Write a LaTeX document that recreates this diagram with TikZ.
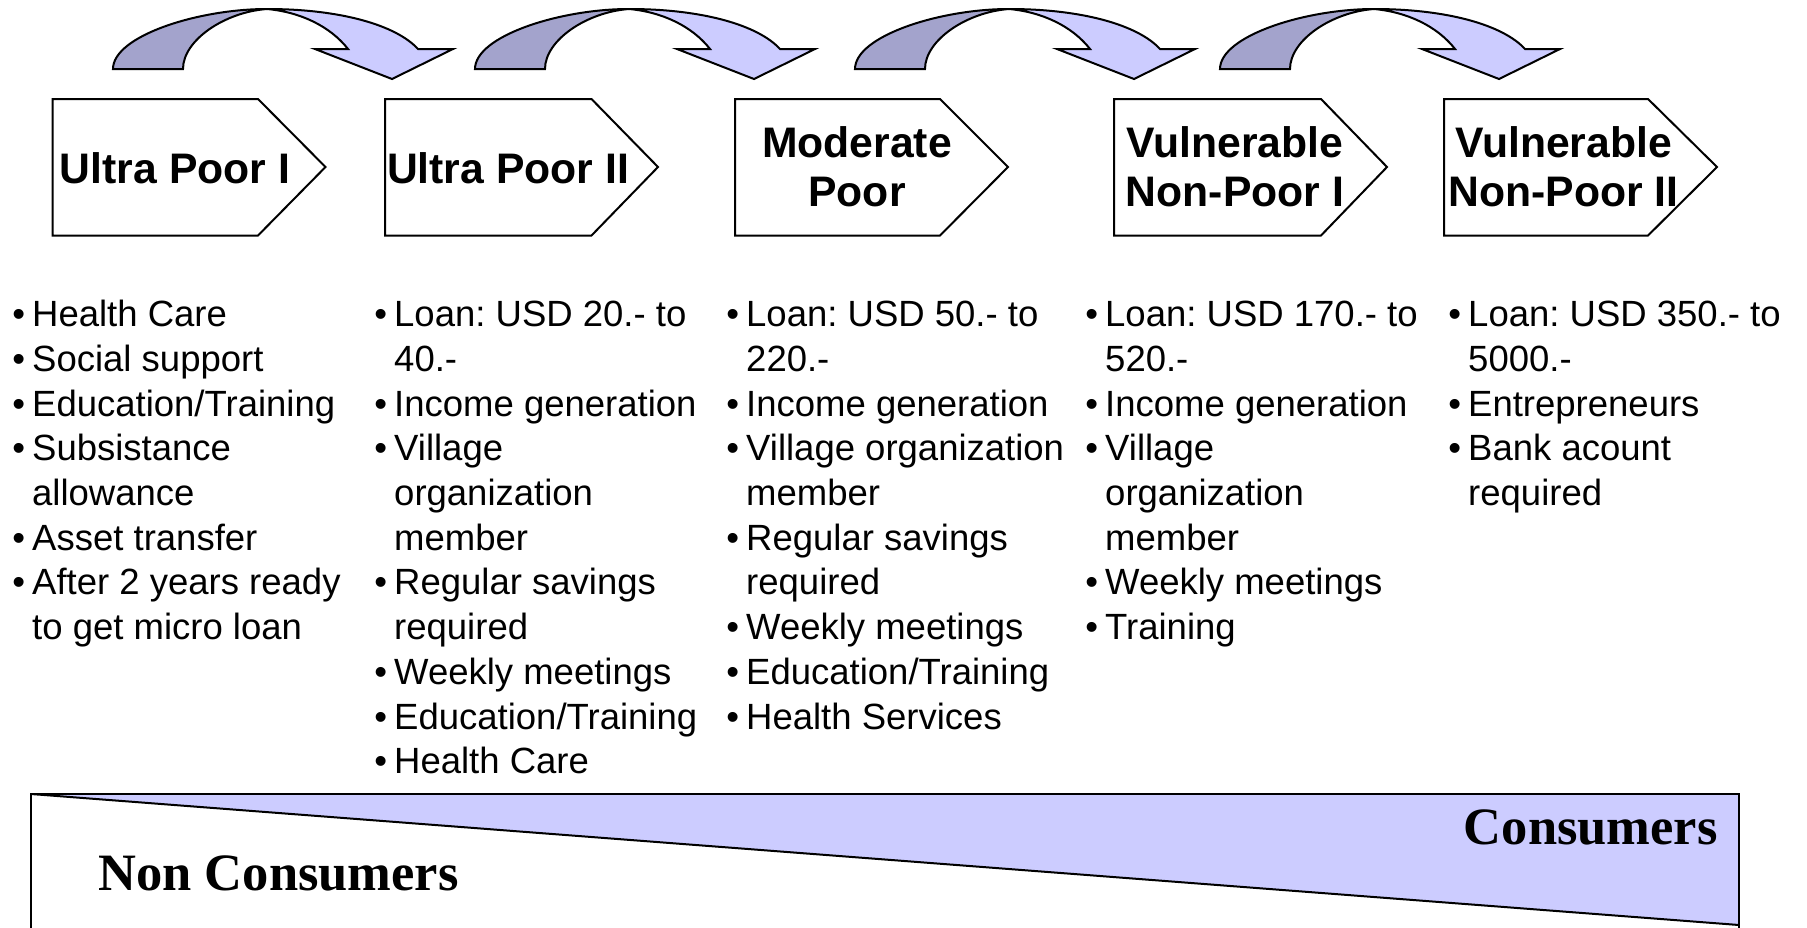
\documentclass[tikz,border=0pt]{standalone}
\usepackage{fontspec}
\setmainfont{Liberation Sans}
\newfontfamily\serifb{Liberation Serif}
\usepackage{array}
\frenchspacing
\definecolor{lightband}{HTML}{CCCCFF}
\definecolor{darkband}{HTML}{A3A3CC}
\newcommand{\bi}[1]{\textbullet & #1\\}
\newcommand{\ci}[1]{& #1\\}
\newenvironment{blist}{\fontsize{18.25pt}{22.35pt}\selectfont\frenchspacing\renewcommand{\arraystretch}{1}\begin{tabular}[t]{@{}p{9.9pt}@{}l@{}}}{\end{tabular}}
\begin{document}
\begin{tikzpicture}[x=0.5pt,y=-0.5pt,
  outline/.style={draw=black,line width=1pt,line join=miter},
  pent/.style={outline,fill=white},
  plabel/.style={inner sep=0pt,anchor=base,font=\fontsize{21.35pt}{24.5pt}\selectfont\bfseries},
  blisttext/.style={inner sep=0pt,anchor=base west},
  bigl/.style={inner sep=0pt,font=\fontsize{26.25pt}{30pt}\selectfont\serifb\bfseries}]
\useasboundingbox (0,0) rectangle (1807,927);

% curved arrows
\foreach \dx in {0,362,742,1107}{
  \begin{scope}[shift={(\dx,0)}]
    \draw[outline,fill=darkband] (113,69) .. controls (113,36) and (198,9) .. (267,9)
      .. controls (225,12) and (183,40) .. (183,69) -- cycle;
    \draw[outline,fill=lightband] (267,9) .. controls (340,9) and (396,25) .. (418,49)
      -- (453,49) -- (392,79) -- (315,49) -- (348,49)
      .. controls (330,26) and (300,12) .. (267,9) -- cycle;
  \end{scope}
}

% pentagons
\draw[pent] (52.7,99) -- (258,99) -- (325.5,167) -- (258,235.5) -- (52.7,235.5) -- cycle;
\draw[pent] (385,99) -- (591.5,99) -- (658,167) -- (591.5,235.5) -- (385,235.5) -- cycle;
\draw[pent] (735,99) -- (940,99) -- (1008,167) -- (940,235.5) -- (735,235.5) -- cycle;
\draw[pent] (1114,99) -- (1321,99) -- (1387,167) -- (1321,235.5) -- (1114,235.5) -- cycle;
\draw[pent] (1444,99) -- (1648,99) -- (1717,167) -- (1648,235.5) -- (1444,235.5) -- cycle;

\node[plabel] (p1) at (175,183.3) {Ultra Poor I};
\node[plabel] (p2) at (508,183.3) {Ultra Poor II};
\node[plabel] (p3) at (857,157) {\begin{tabular}[t]{@{}c@{}}Moderate\\Poor\end{tabular}};
\node[plabel] (p4) at (1235,157) {\begin{tabular}[t]{@{}c@{}}Vulnerable\\Non-Poor I\end{tabular}};
\node[plabel] (p5) at (1563.5,157) {\begin{tabular}[t]{@{}c@{}}Vulnerable\\Non-Poor II\end{tabular}};

% bullet lists
\node[blisttext] (c1) at (12,326.7) {\begin{blist}
\bi{Health Care}
\bi{Social support}
\bi{Education/Training}
\bi{Subsistance}
\ci{allowance}
\bi{Asset transfer}
\bi{After 2 years ready}
\ci{to get micro loan}
\end{blist}};
\node[blisttext] (c2) at (374,326.7) {\begin{blist}
\bi{Loan: USD 20.- to}
\ci{40.-}
\bi{Income generation}
\bi{Village}
\ci{organization}
\ci{member}
\bi{Regular savings}
\ci{required}
\bi{Weekly meetings}
\bi{Education/Training}
\bi{Health Care}
\end{blist}};
\node[blisttext] (c3) at (726,326.7) {\begin{blist}
\bi{Loan: USD 50.- to}
\ci{220.-}
\bi{Income generation}
\bi{Village organization}
\ci{member}
\bi{Regular savings}
\ci{required}
\bi{Weekly meetings}
\bi{Education/Training}
\bi{Health Services}
\end{blist}};
\node[blisttext] (c4) at (1085,326.7) {\begin{blist}
\bi{Loan: USD 170.- to}
\ci{520.-}
\bi{Income generation}
\bi{Village}
\ci{organization}
\ci{member}
\bi{Weekly meetings}
\bi{Training}
\end{blist}};
\node[blisttext] (c5) at (1448,326.7) {\begin{blist}
\bi{Loan: USD 350.- to}
\ci{5000.-}
\bi{Entrepreneurs}
\bi{Bank acount}
\ci{required}
\end{blist}};

% bottom box
\begin{scope}
  \clip (0,0) rectangle (1807,927);
  \fill[lightband] (31,794) -- (1739,794) -- (1739,925) -- cycle;
  \draw[outline] (31,940) -- (31,794) -- (1739,794) -- (1739,940);
  \draw[outline] (31,794) -- (1739,925);
\end{scope}
\node[bigl,anchor=base west] (nc) at (98,890) {Non Consumers};
\node[bigl,anchor=base east] (co) at (1718,844) {Consumers};
\end{tikzpicture}
\end{document}
